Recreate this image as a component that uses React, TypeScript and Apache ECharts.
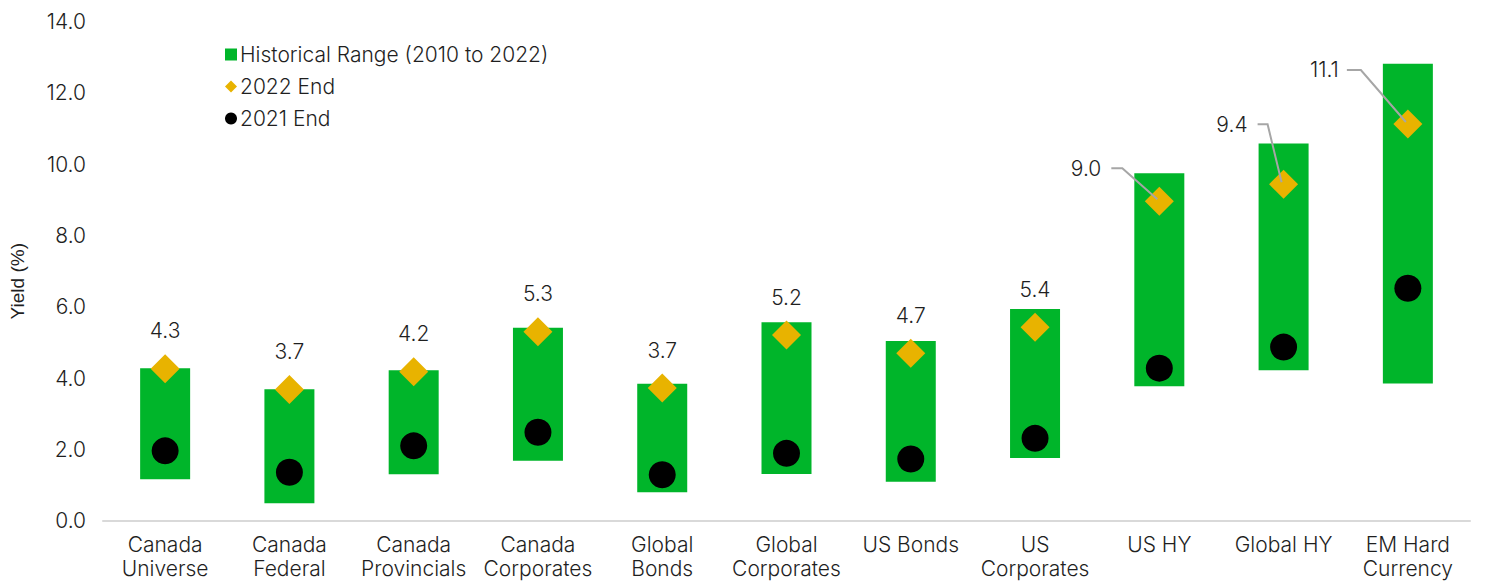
import React, { useEffect, useRef } from "react";
import * as echarts from "echarts";

const categories = [
  "Canada\nUniverse",
  "Canada\nFederal",
  "Canada\nProvincials",
  "Canada\nCorporates",
  "Global\nBonds",
  "Global\nCorporates",
  "US Bonds",
  "US\nCorporates",
  "US HY",
  "Global HY",
  "EM Hard\nCurrency",
];
const rangeLow = [1.16, 0.49, 1.3, 1.68, 0.8, 1.31, 1.09, 1.76, 3.77, 4.22, 3.85];
const rangeHigh = [4.28, 3.69, 4.22, 5.41, 3.84, 5.57, 5.04, 5.94, 9.75, 10.58, 12.82];
const end2022 = [4.26, 3.68, 4.18, 5.3, 3.72, 5.21, 4.7, 5.43, 8.96, 9.44, 11.13];
const end2021 = [1.96, 1.36, 2.1, 2.48, 1.29, 1.89, 1.73, 2.31, 4.28, 4.87, 6.52];
const yTicks = { min: 0, max: 14, interval: 2 };

// leader-line label placement (pixel offsets from the marker) for the callout labels
const leaderOffsets: Record<number, { turn: number[]; end: number[]; text: number[] }> = {
  8: { turn: [-37, -33], end: [-48, -33], text: [-58, -33] },
  9: { turn: [-16, -60], end: [-26, -60], text: [-36, -60] },
  10: { turn: [-47, -54], end: [-61, -54], text: [-69, -54] },
};

const FONT = "Inter";
const FW = 300;
const TEXT = "#1f1f1f";
const GREEN = "#00b52a";
const GOLD = "#e8b300";
const FS = 21;

export default function App() {
  const ref = useRef<HTMLDivElement>(null);
  useEffect(() => {
    if (!ref.current) return;
    const chart = echarts.init(ref.current, undefined, { renderer: "svg" });
    const option: any = {
      animation: false,
      textStyle: { fontFamily: FONT, color: TEXT },
      grid: { left: 96, right: 16, top: 21.7, bottom: 61.3 },
      legend: {
        orient: "vertical",
        left: 220,
        top: 39,
        itemGap: 11,
        itemWidth: 12,
        itemHeight: 12,
        textStyle: {
          fontFamily: FONT,
          fontWeight: FW,
          fontSize: FS,
          color: TEXT,
          padding: [0, 0, 0, -2],
        },
        data: [
          { name: "Historical Range (2010 to 2022)", icon: "rect", itemStyle: { color: GREEN } },
          { name: "2022 End", icon: "diamond" },
          { name: "2021 End", icon: "circle" },
        ],
      },
      xAxis: {
        type: "category",
        data: categories,
        axisLine: { show: true, lineStyle: { color: "#d9d9d9", width: 2 } },
        axisTick: { show: false },
        axisLabel: {
          fontFamily: FONT,
          fontWeight: FW,
          fontSize: FS,
          color: TEXT,
          lineHeight: 24,
          margin: 12,
          interval: 0,
        },
      },
      yAxis: {
        type: "value",
        min: yTicks.min,
        max: yTicks.max,
        interval: yTicks.interval,
        name: "Yield (%)",
        nameLocation: "middle",
        nameGap: 76,
        nameTextStyle: {
          fontFamily: "Liberation Sans",
          fontSize: 19,
          color: TEXT,
          padding: [0, 20, 0, 0],
        },
        axisLine: { show: false },
        axisTick: { show: false },
        splitLine: { show: false },
        axisLabel: {
          fontFamily: FONT,
          fontWeight: FW,
          fontSize: FS,
          color: TEXT,
          margin: 17,
          formatter: (v: number) => v.toFixed(1),
        },
      },
      series: [
        {
          name: "base",
          type: "bar",
          stack: "range",
          barWidth: 50,
          silent: true,
          itemStyle: { color: "transparent" },
          data: rangeLow,
        },
        {
          name: "Historical Range (2010 to 2022)",
          type: "bar",
          stack: "range",
          barWidth: 50,
          itemStyle: { color: GREEN },
          data: rangeHigh.map((h, i) => +(h - rangeLow[i]).toFixed(3)),
        },
        {
          name: "2021 End",
          type: "scatter",
          symbol: "circle",
          symbolSize: 27,
          itemStyle: { color: "#000000", opacity: 1 },
          z: 3,
          data: end2021,
        },
        {
          name: "2022 End",
          type: "scatter",
          symbol: "diamond",
          symbolSize: 29,
          itemStyle: { color: GOLD, opacity: 1 },
          z: 4,
          data: end2022.map((v, i) => ({
            value: v,
            label: { show: !leaderOffsets[i] },
          })),
          label: {
            position: "top",
            distance: 13,
            fontFamily: FONT,
            fontWeight: FW,
            fontSize: FS,
            color: TEXT,
            formatter: (p: any) => Number(p.value).toFixed(1),
          },
        },
        {
          name: "callouts",
          type: "custom",
          silent: true,
          z: 5,
          data: end2022.map((v, i) => [i, v]),
          renderItem: (params: any, api: any) => {
            const idx = params.dataIndex;
            const o = leaderOffsets[idx];
            if (!o) return null;
            const p = api.coord([api.value(0), api.value(1)]);
            return {
              type: "group",
              children: [
                {
                  type: "polyline",
                  shape: {
                    points: [
                      [p[0] - 2, p[1] - 2],
                      [p[0] + o.turn[0], p[1] + o.turn[1]],
                      [p[0] + o.end[0], p[1] + o.end[1]],
                    ],
                  },
                  style: { stroke: "#a6a6a6", lineWidth: 2, fill: null },
                },
                {
                  type: "text",
                  x: p[0] + o.text[0],
                  y: p[1] + o.text[1],
                  style: {
                    text: Number(api.value(1)).toFixed(1),
                    fontFamily: FONT,
                    fontWeight: FW,
                    fontSize: FS,
                    fill: TEXT,
                    align: "right",
                    verticalAlign: "middle",
                  },
                },
              ],
            };
          },
        },
      ],
    };
    chart.setOption(option);
    return () => chart.dispose();
  }, []);
  return (
    <div
      ref={ref}
      style={{ position: "fixed", left: 0, top: 0, width: 1486, height: 582, background: "#ffffff" }}
    />
  );
}
